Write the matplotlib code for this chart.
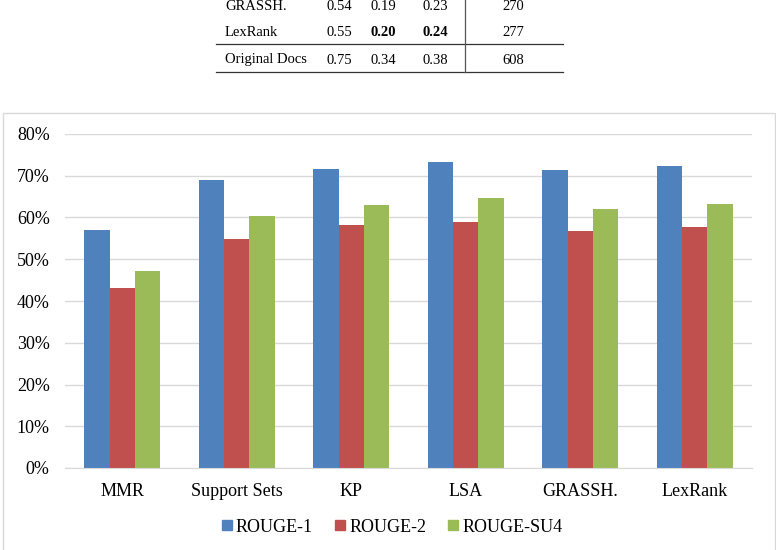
import matplotlib.pyplot as plt
from matplotlib.lines import Line2D
from matplotlib.patches import Rectangle
import numpy as np

plt.rcParams['font.family'] = ['Liberation Serif', 'DejaVu Serif']

categories = ['MMR', 'Support Sets', 'KP', 'LSA', 'GRASSH.', 'LexRank']
series = ['ROUGE-1', 'ROUGE-2', 'ROUGE-SU4']
rouge1 = [0.570, 0.690, 0.716, 0.733, 0.714, 0.723]
rouge2 = [0.430, 0.549, 0.582, 0.589, 0.568, 0.577]
rougesu4 = [0.472, 0.604, 0.630, 0.647, 0.620, 0.632]
colors = ['#4F81BD', '#C0504D', '#9BBB59']

# table fragment above the chart
table_rows = [
    ['GRASSH.', '0.54', '0.19', '0.23', '270'],
    ['LexRank', '0.55', '0.20', '0.24', '277'],
    ['Original Docs', '0.75', '0.34', '0.38', '608'],
]
bold_cells = {(1, 2), (1, 3)}

fig = plt.figure(figsize=(7.76, 5.5), dpi=100)
W, H = 776, 550

def fx(px):
    return px / W

def fy(py):
    return 1 - py / H

col_x = [225, 339, 383, 435, 513]
row_y = [6, 32, 60]
for r, row in enumerate(table_rows):
    for c, txt in enumerate(row):
        fig.text(fx(col_x[c]), fy(row_y[r]), txt, fontsize=10.5,
                 ha='left' if c == 0 else 'center', va='center',
                 fontweight='bold' if (r, c) in bold_cells else 'normal')
for yy in [44, 72]:
    fig.add_artist(Line2D([fx(216), fx(563)], [fy(yy), fy(yy)], color='#333333', lw=0.9))
fig.add_artist(Line2D([fx(465), fx(465)], [fy(0), fy(72)], color='#555555', lw=0.9))

# chart frame
fig.add_artist(Rectangle((fx(3), -0.01), fx(772), fy(113) + 0.01, fill=False,
                         edgecolor='#D9D9D9', lw=1.0))

ax = fig.add_axes([fx(65), fy(468), fx(752 - 65), fy(134) - fy(468)])
x = np.arange(len(categories))
w = 0.22
for i, vals in enumerate([rouge1, rouge2, rougesu4]):
    ax.bar(x + (i - 1) * w, vals, width=w, color=colors[i], label=series[i], zorder=2)

ax.set_xlim(-0.5, len(categories) - 0.5)
ax.set_ylim(0, 0.8)
ax.set_yticks(np.arange(0, 0.81, 0.1))
ax.set_yticklabels([f'{int(round(v * 100))}%' for v in np.arange(0, 0.81, 0.1)])
ax.set_xticks(x)
ax.set_xticklabels(categories)
ax.tick_params(axis='both', length=0, labelsize=13)
ax.tick_params(axis='y', pad=11)
ax.tick_params(axis='x', pad=11)
ax.grid(axis='y', color='#D9D9D9', lw=1, zorder=0)
for s in ['top', 'right', 'left']:
    ax.spines[s].set_visible(False)
ax.spines['bottom'].set_color('#D9D9D9')

handles = [Line2D([], [], marker='s', ls='', color=c, markersize=7) for c in colors]
fig.legend(handles, series, loc='center', bbox_to_anchor=(fx(390), fy(527)), ncol=3,
           frameon=False, fontsize=13, handletextpad=0.0, columnspacing=1.0,
           handlelength=1.0)

fig.savefig('out.png', dpi=100)
